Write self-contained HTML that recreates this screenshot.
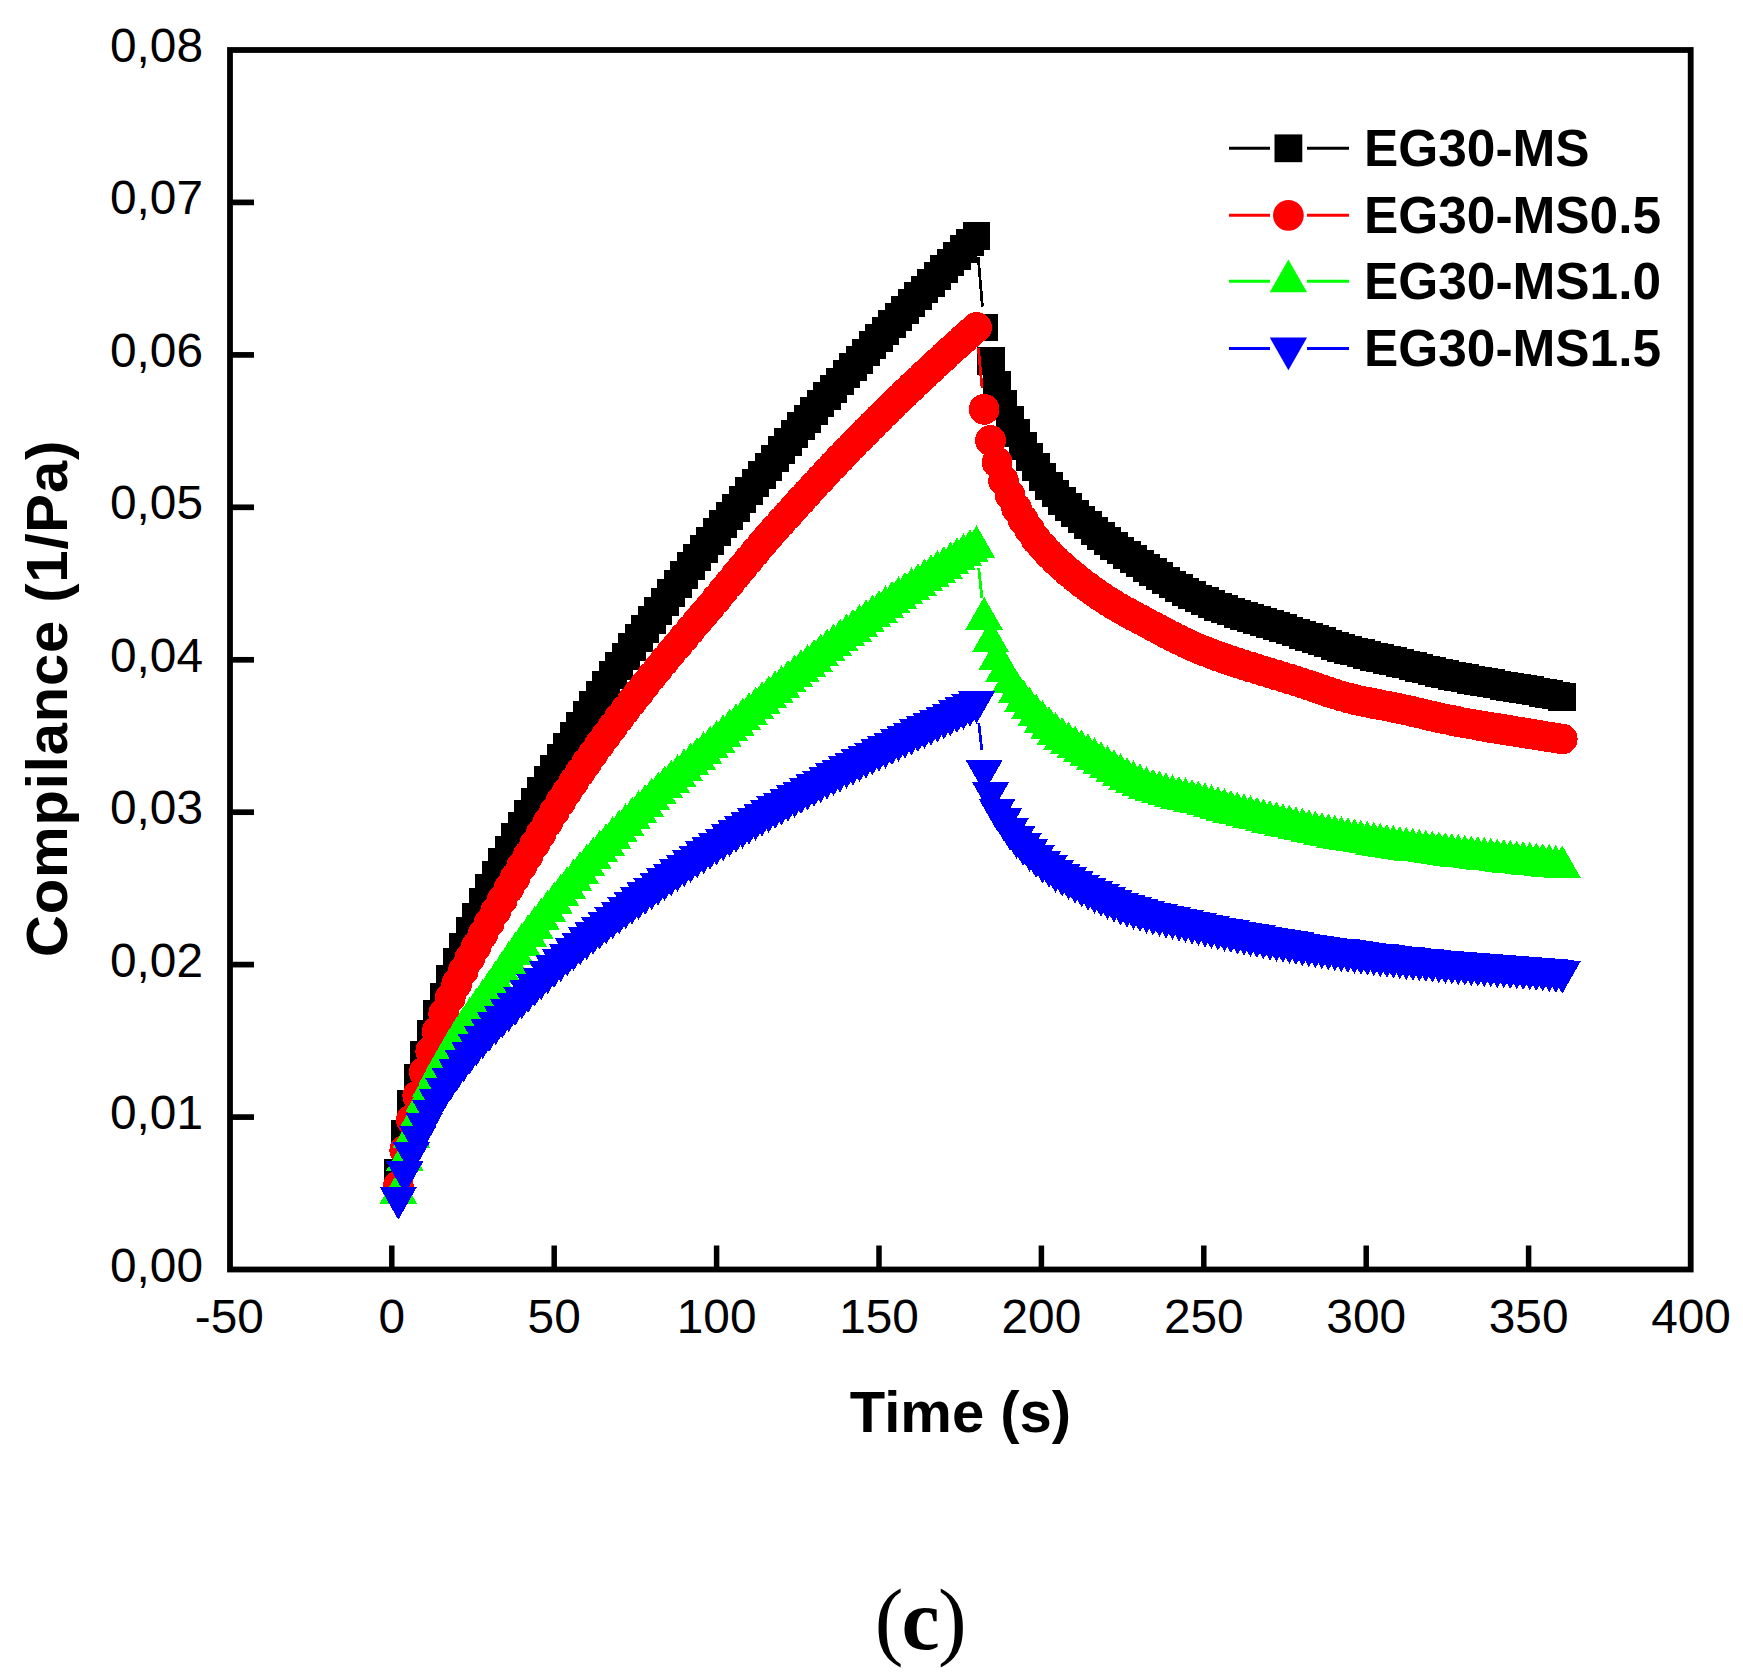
<!DOCTYPE html>
<html><head><meta charset="utf-8"><title>Creep compliance</title>
<style>
html,body{margin:0;padding:0;background:#fff;}
body{width:1743px;height:1674px;overflow:hidden;}
svg{display:block;}
.tk{font-family:"Liberation Sans",Arial,sans-serif;font-size:47.8px;fill:#000;}
.lg{font-family:"Liberation Sans",Arial,sans-serif;font-size:51.4px;font-weight:bold;fill:#000;}
.ttl{font-family:"Liberation Sans",Arial,sans-serif;font-size:58px;font-weight:bold;fill:#000;}
.cap{font-family:"Liberation Serif","Times New Roman",serif;font-size:86px;letter-spacing:-1.8px;fill:#000;}
</style></head><body>
<svg width="1743" height="1674" viewBox="0 0 1743 1674">
<rect width="1743" height="1674" fill="#fff"/>
<g shape-rendering="crispEdges">
<g fill="#000000" stroke="none">
<line x1="978.2" y1="257" x2="982.4" y2="306.6" stroke="#000000" stroke-width="2.8"/>
<path d="M384.4 1158.96h27.8v27.8h-27.8zM390.89 1119.94h27.8v27.8h-27.8zM397.39 1090.06h27.8v27.8h-27.8zM403.88 1064.15h27.8v27.8h-27.8zM410.38 1041.13h27.8v27.8h-27.8zM416.88 1019.94h27.8v27.8h-27.8zM423.37 999.97h27.8v27.8h-27.8zM429.87 983.21h27.8v27.8h-27.8zM436.36 964.92h27.8v27.8h-27.8zM442.86 948.14h27.8v27.8h-27.8zM449.36 932.53h27.8v27.8h-27.8zM455.85 917.36h27.8v27.8h-27.8zM462.35 902.53h27.8v27.8h-27.8zM468.84 888.24h27.8v27.8h-27.8zM475.34 874.45h27.8v27.8h-27.8zM481.84 861.1h27.8v27.8h-27.8zM488.33 848.18h27.8v27.8h-27.8zM494.83 835.64h27.8v27.8h-27.8zM501.32 823.46h27.8v27.8h-27.8zM507.82 811.53h27.8v27.8h-27.8zM514.32 799.76h27.8v27.8h-27.8zM520.81 788.17h27.8v27.8h-27.8zM527.31 776.77h27.8v27.8h-27.8zM533.8 765.56h27.8v27.8h-27.8zM540.3 754.55h27.8v27.8h-27.8zM546.8 743.74h27.8v27.8h-27.8zM553.29 733.02h27.8v27.8h-27.8zM559.79 722.33h27.8v27.8h-27.8zM566.28 711.73h27.8v27.8h-27.8zM572.78 701.27h27.8v27.8h-27.8zM579.28 690.98h27.8v27.8h-27.8zM585.77 680.89h27.8v27.8h-27.8zM592.27 671.03h27.8v27.8h-27.8zM598.76 661.38h27.8v27.8h-27.8zM605.26 651.88h27.8v27.8h-27.8zM611.76 642.51h27.8v27.8h-27.8zM618.25 633.25h27.8v27.8h-27.8zM624.75 624.08h27.8v27.8h-27.8zM631.24 614.98h27.8v27.8h-27.8zM637.74 605.94h27.8v27.8h-27.8zM644.24 596.91h27.8v27.8h-27.8zM650.73 587.85h27.8v27.8h-27.8zM657.23 578.82h27.8v27.8h-27.8zM663.72 569.85h27.8v27.8h-27.8zM670.22 560.98h27.8v27.8h-27.8zM676.72 552.23h27.8v27.8h-27.8zM683.21 543.62h27.8v27.8h-27.8zM689.71 535.13h27.8v27.8h-27.8zM696.2 526.72h27.8v27.8h-27.8zM702.7 518.4h27.8v27.8h-27.8zM709.2 510.13h27.8v27.8h-27.8zM715.69 501.91h27.8v27.8h-27.8zM722.19 493.74h27.8v27.8h-27.8zM728.68 485.58h27.8v27.8h-27.8zM735.18 477.44h27.8v27.8h-27.8zM741.68 469.28h27.8v27.8h-27.8zM748.17 461.06h27.8v27.8h-27.8zM754.67 452.83h27.8v27.8h-27.8zM761.16 444.62h27.8v27.8h-27.8zM767.66 436.46h27.8v27.8h-27.8zM774.16 428.37h27.8v27.8h-27.8zM780.65 420.37h27.8v27.8h-27.8zM787.15 412.48h27.8v27.8h-27.8zM793.64 404.74h27.8v27.8h-27.8zM800.14 397.12h27.8v27.8h-27.8zM806.64 389.6h27.8v27.8h-27.8zM813.13 382.17h27.8v27.8h-27.8zM819.63 374.81h27.8v27.8h-27.8zM826.12 367.5h27.8v27.8h-27.8zM832.62 360.24h27.8v27.8h-27.8zM839.12 353.01h27.8v27.8h-27.8zM845.61 345.79h27.8v27.8h-27.8zM852.11 338.58h27.8v27.8h-27.8zM858.6 331.4h27.8v27.8h-27.8zM865.1 324.26h27.8v27.8h-27.8zM871.6 317.17h27.8v27.8h-27.8zM878.09 310.13h27.8v27.8h-27.8zM884.59 303.13h27.8v27.8h-27.8zM891.08 296.17h27.8v27.8h-27.8zM897.58 289.26h27.8v27.8h-27.8zM904.08 282.38h27.8v27.8h-27.8zM910.57 275.54h27.8v27.8h-27.8zM917.07 268.74h27.8v27.8h-27.8zM923.56 261.98h27.8v27.8h-27.8zM930.06 255.25h27.8v27.8h-27.8zM936.56 248.56h27.8v27.8h-27.8zM943.05 241.9h27.8v27.8h-27.8zM949.55 235.28h27.8v27.8h-27.8zM956.04 228.69h27.8v27.8h-27.8zM962.54 222.12h27.8v27.8h-27.8zM970.21 313.58h27.8v27.8h-27.8zM976.7 347.12h27.8v27.8h-27.8zM983.2 370.9h27.8v27.8h-27.8zM989.69 389.95h27.8v27.8h-27.8zM996.19 405.8h27.8v27.8h-27.8zM1002.69 419.22h27.8v27.8h-27.8zM1009.18 431.72h27.8v27.8h-27.8zM1015.68 443.3h27.8v27.8h-27.8zM1022.17 453.21h27.8v27.8h-27.8zM1028.67 463.12h27.8v27.8h-27.8zM1035.17 472.11h27.8v27.8h-27.8zM1041.66 479.65h27.8v27.8h-27.8zM1048.16 486.72h27.8v27.8h-27.8zM1054.65 493.37h27.8v27.8h-27.8zM1061.15 499.65h27.8v27.8h-27.8zM1067.65 505.63h27.8v27.8h-27.8zM1074.14 511.34h27.8v27.8h-27.8zM1080.64 516.85h27.8v27.8h-27.8zM1087.13 522.14h27.8v27.8h-27.8zM1093.63 527.15h27.8v27.8h-27.8zM1100.13 531.94h27.8v27.8h-27.8zM1106.62 536.54h27.8v27.8h-27.8zM1113.12 540.99h27.8v27.8h-27.8zM1119.61 545.34h27.8v27.8h-27.8zM1126.11 549.66h27.8v27.8h-27.8zM1132.61 553.98h27.8v27.8h-27.8zM1139.1 558.26h27.8v27.8h-27.8zM1145.6 562.48h27.8v27.8h-27.8zM1152.09 566.6h27.8v27.8h-27.8zM1158.59 570.59h27.8v27.8h-27.8zM1165.09 574.41h27.8v27.8h-27.8zM1171.58 578.03h27.8v27.8h-27.8zM1178.08 581.43h27.8v27.8h-27.8zM1184.57 584.57h27.8v27.8h-27.8zM1191.07 587.46h27.8v27.8h-27.8zM1197.57 590.18h27.8v27.8h-27.8zM1204.06 592.77h27.8v27.8h-27.8zM1210.56 595.23h27.8v27.8h-27.8zM1217.05 597.59h27.8v27.8h-27.8zM1223.55 599.86h27.8v27.8h-27.8zM1230.05 602.05h27.8v27.8h-27.8zM1236.54 604.18h27.8v27.8h-27.8zM1243.04 606.26h27.8v27.8h-27.8zM1249.53 608.31h27.8v27.8h-27.8zM1256.03 610.34h27.8v27.8h-27.8zM1262.53 612.38h27.8v27.8h-27.8zM1269.02 614.43h27.8v27.8h-27.8zM1275.52 616.5h27.8v27.8h-27.8zM1282.01 618.62h27.8v27.8h-27.8zM1288.51 620.8h27.8v27.8h-27.8zM1295.01 623.02h27.8v27.8h-27.8zM1301.5 625.25h27.8v27.8h-27.8zM1308 627.48h27.8v27.8h-27.8zM1314.49 629.67h27.8v27.8h-27.8zM1320.99 631.81h27.8v27.8h-27.8zM1327.49 633.87h27.8v27.8h-27.8zM1333.98 635.83h27.8v27.8h-27.8zM1340.48 637.67h27.8v27.8h-27.8zM1346.97 639.42h27.8v27.8h-27.8zM1353.47 641.09h27.8v27.8h-27.8zM1359.97 642.71h27.8v27.8h-27.8zM1366.46 644.3h27.8v27.8h-27.8zM1372.96 645.87h27.8v27.8h-27.8zM1379.45 647.45h27.8v27.8h-27.8zM1385.95 649.05h27.8v27.8h-27.8zM1392.45 650.68h27.8v27.8h-27.8zM1398.94 652.33h27.8v27.8h-27.8zM1405.44 653.99h27.8v27.8h-27.8zM1411.93 655.63h27.8v27.8h-27.8zM1418.43 657.24h27.8v27.8h-27.8zM1424.93 658.81h27.8v27.8h-27.8zM1431.42 660.32h27.8v27.8h-27.8zM1437.92 661.75h27.8v27.8h-27.8zM1444.41 663.12h27.8v27.8h-27.8zM1450.91 664.44h27.8v27.8h-27.8zM1457.41 665.72h27.8v27.8h-27.8zM1463.9 666.96h27.8v27.8h-27.8zM1470.4 668.18h27.8v27.8h-27.8zM1476.89 669.37h27.8v27.8h-27.8zM1483.39 670.55h27.8v27.8h-27.8zM1489.89 671.71h27.8v27.8h-27.8zM1496.38 672.88h27.8v27.8h-27.8zM1502.88 674.04h27.8v27.8h-27.8zM1509.37 675.22h27.8v27.8h-27.8zM1515.87 676.42h27.8v27.8h-27.8zM1522.37 677.64h27.8v27.8h-27.8zM1528.86 678.89h27.8v27.8h-27.8zM1535.36 680.17h27.8v27.8h-27.8zM1541.85 681.51h27.8v27.8h-27.8zM1548.35 682.89h27.8v27.8h-27.8z"/>
</g>
<g fill="#ff0000" stroke="none">
<line x1="978.4" y1="348.4" x2="982.1" y2="388.4" stroke="#ff0000" stroke-width="2.8"/>
<path d="M382.9 1185.97a15.4 15.4 0 1 0 30.8 0a15.4 15.4 0 1 0 -30.8 0zM389.39 1150.15a15.4 15.4 0 1 0 30.8 0a15.4 15.4 0 1 0 -30.8 0zM395.89 1119.81a15.4 15.4 0 1 0 30.8 0a15.4 15.4 0 1 0 -30.8 0zM402.38 1095.73a15.4 15.4 0 1 0 30.8 0a15.4 15.4 0 1 0 -30.8 0zM408.88 1072.1a15.4 15.4 0 1 0 30.8 0a15.4 15.4 0 1 0 -30.8 0zM415.38 1051.07a15.4 15.4 0 1 0 30.8 0a15.4 15.4 0 1 0 -30.8 0zM421.87 1031.33a15.4 15.4 0 1 0 30.8 0a15.4 15.4 0 1 0 -30.8 0zM428.37 1013.42a15.4 15.4 0 1 0 30.8 0a15.4 15.4 0 1 0 -30.8 0zM434.86 997.76a15.4 15.4 0 1 0 30.8 0a15.4 15.4 0 1 0 -30.8 0zM441.36 983.79a15.4 15.4 0 1 0 30.8 0a15.4 15.4 0 1 0 -30.8 0zM447.86 970.84a15.4 15.4 0 1 0 30.8 0a15.4 15.4 0 1 0 -30.8 0zM454.35 958.48a15.4 15.4 0 1 0 30.8 0a15.4 15.4 0 1 0 -30.8 0zM460.85 946.46a15.4 15.4 0 1 0 30.8 0a15.4 15.4 0 1 0 -30.8 0zM467.34 934.61a15.4 15.4 0 1 0 30.8 0a15.4 15.4 0 1 0 -30.8 0zM473.84 922.87a15.4 15.4 0 1 0 30.8 0a15.4 15.4 0 1 0 -30.8 0zM480.34 911.27a15.4 15.4 0 1 0 30.8 0a15.4 15.4 0 1 0 -30.8 0zM486.83 899.82a15.4 15.4 0 1 0 30.8 0a15.4 15.4 0 1 0 -30.8 0zM493.33 888.56a15.4 15.4 0 1 0 30.8 0a15.4 15.4 0 1 0 -30.8 0zM499.82 877.48a15.4 15.4 0 1 0 30.8 0a15.4 15.4 0 1 0 -30.8 0zM506.32 866.47a15.4 15.4 0 1 0 30.8 0a15.4 15.4 0 1 0 -30.8 0zM512.82 855.43a15.4 15.4 0 1 0 30.8 0a15.4 15.4 0 1 0 -30.8 0zM519.31 844.41a15.4 15.4 0 1 0 30.8 0a15.4 15.4 0 1 0 -30.8 0zM525.81 833.49a15.4 15.4 0 1 0 30.8 0a15.4 15.4 0 1 0 -30.8 0zM532.3 822.71a15.4 15.4 0 1 0 30.8 0a15.4 15.4 0 1 0 -30.8 0zM538.8 812.11a15.4 15.4 0 1 0 30.8 0a15.4 15.4 0 1 0 -30.8 0zM545.3 801.79a15.4 15.4 0 1 0 30.8 0a15.4 15.4 0 1 0 -30.8 0zM551.79 791.73a15.4 15.4 0 1 0 30.8 0a15.4 15.4 0 1 0 -30.8 0zM558.29 781.91a15.4 15.4 0 1 0 30.8 0a15.4 15.4 0 1 0 -30.8 0zM564.78 772.31a15.4 15.4 0 1 0 30.8 0a15.4 15.4 0 1 0 -30.8 0zM571.28 762.9a15.4 15.4 0 1 0 30.8 0a15.4 15.4 0 1 0 -30.8 0zM577.78 753.68a15.4 15.4 0 1 0 30.8 0a15.4 15.4 0 1 0 -30.8 0zM584.27 744.62a15.4 15.4 0 1 0 30.8 0a15.4 15.4 0 1 0 -30.8 0zM590.77 735.71a15.4 15.4 0 1 0 30.8 0a15.4 15.4 0 1 0 -30.8 0zM597.26 726.94a15.4 15.4 0 1 0 30.8 0a15.4 15.4 0 1 0 -30.8 0zM603.76 718.3a15.4 15.4 0 1 0 30.8 0a15.4 15.4 0 1 0 -30.8 0zM610.26 709.78a15.4 15.4 0 1 0 30.8 0a15.4 15.4 0 1 0 -30.8 0zM616.75 701.38a15.4 15.4 0 1 0 30.8 0a15.4 15.4 0 1 0 -30.8 0zM623.25 693.08a15.4 15.4 0 1 0 30.8 0a15.4 15.4 0 1 0 -30.8 0zM629.74 684.88a15.4 15.4 0 1 0 30.8 0a15.4 15.4 0 1 0 -30.8 0zM636.24 676.77a15.4 15.4 0 1 0 30.8 0a15.4 15.4 0 1 0 -30.8 0zM642.74 668.74a15.4 15.4 0 1 0 30.8 0a15.4 15.4 0 1 0 -30.8 0zM649.23 660.81a15.4 15.4 0 1 0 30.8 0a15.4 15.4 0 1 0 -30.8 0zM655.73 652.94a15.4 15.4 0 1 0 30.8 0a15.4 15.4 0 1 0 -30.8 0zM662.22 645.16a15.4 15.4 0 1 0 30.8 0a15.4 15.4 0 1 0 -30.8 0zM668.72 637.44a15.4 15.4 0 1 0 30.8 0a15.4 15.4 0 1 0 -30.8 0zM675.22 629.79a15.4 15.4 0 1 0 30.8 0a15.4 15.4 0 1 0 -30.8 0zM681.71 622.21a15.4 15.4 0 1 0 30.8 0a15.4 15.4 0 1 0 -30.8 0zM688.21 614.57a15.4 15.4 0 1 0 30.8 0a15.4 15.4 0 1 0 -30.8 0zM694.7 606.81a15.4 15.4 0 1 0 30.8 0a15.4 15.4 0 1 0 -30.8 0zM701.2 598.96a15.4 15.4 0 1 0 30.8 0a15.4 15.4 0 1 0 -30.8 0zM707.7 591.06a15.4 15.4 0 1 0 30.8 0a15.4 15.4 0 1 0 -30.8 0zM714.19 583.15a15.4 15.4 0 1 0 30.8 0a15.4 15.4 0 1 0 -30.8 0zM720.69 575.24a15.4 15.4 0 1 0 30.8 0a15.4 15.4 0 1 0 -30.8 0zM727.18 567.37a15.4 15.4 0 1 0 30.8 0a15.4 15.4 0 1 0 -30.8 0zM733.68 559.55a15.4 15.4 0 1 0 30.8 0a15.4 15.4 0 1 0 -30.8 0zM740.18 551.8a15.4 15.4 0 1 0 30.8 0a15.4 15.4 0 1 0 -30.8 0zM746.67 544.15a15.4 15.4 0 1 0 30.8 0a15.4 15.4 0 1 0 -30.8 0zM753.17 536.6a15.4 15.4 0 1 0 30.8 0a15.4 15.4 0 1 0 -30.8 0zM759.66 529.18a15.4 15.4 0 1 0 30.8 0a15.4 15.4 0 1 0 -30.8 0zM766.16 521.88a15.4 15.4 0 1 0 30.8 0a15.4 15.4 0 1 0 -30.8 0zM772.66 514.64a15.4 15.4 0 1 0 30.8 0a15.4 15.4 0 1 0 -30.8 0zM779.15 507.43a15.4 15.4 0 1 0 30.8 0a15.4 15.4 0 1 0 -30.8 0zM785.65 500.27a15.4 15.4 0 1 0 30.8 0a15.4 15.4 0 1 0 -30.8 0zM792.14 493.16a15.4 15.4 0 1 0 30.8 0a15.4 15.4 0 1 0 -30.8 0zM798.64 486.09a15.4 15.4 0 1 0 30.8 0a15.4 15.4 0 1 0 -30.8 0zM805.14 479.08a15.4 15.4 0 1 0 30.8 0a15.4 15.4 0 1 0 -30.8 0zM811.63 472.13a15.4 15.4 0 1 0 30.8 0a15.4 15.4 0 1 0 -30.8 0zM818.13 465.23a15.4 15.4 0 1 0 30.8 0a15.4 15.4 0 1 0 -30.8 0zM824.62 458.4a15.4 15.4 0 1 0 30.8 0a15.4 15.4 0 1 0 -30.8 0zM831.12 451.63a15.4 15.4 0 1 0 30.8 0a15.4 15.4 0 1 0 -30.8 0zM837.62 444.92a15.4 15.4 0 1 0 30.8 0a15.4 15.4 0 1 0 -30.8 0zM844.11 438.28a15.4 15.4 0 1 0 30.8 0a15.4 15.4 0 1 0 -30.8 0zM850.61 431.7a15.4 15.4 0 1 0 30.8 0a15.4 15.4 0 1 0 -30.8 0zM857.1 425.18a15.4 15.4 0 1 0 30.8 0a15.4 15.4 0 1 0 -30.8 0zM863.6 418.72a15.4 15.4 0 1 0 30.8 0a15.4 15.4 0 1 0 -30.8 0zM870.1 412.3a15.4 15.4 0 1 0 30.8 0a15.4 15.4 0 1 0 -30.8 0zM876.59 405.94a15.4 15.4 0 1 0 30.8 0a15.4 15.4 0 1 0 -30.8 0zM883.09 399.63a15.4 15.4 0 1 0 30.8 0a15.4 15.4 0 1 0 -30.8 0zM889.58 393.36a15.4 15.4 0 1 0 30.8 0a15.4 15.4 0 1 0 -30.8 0zM896.08 387.14a15.4 15.4 0 1 0 30.8 0a15.4 15.4 0 1 0 -30.8 0zM902.58 380.98a15.4 15.4 0 1 0 30.8 0a15.4 15.4 0 1 0 -30.8 0zM909.07 374.85a15.4 15.4 0 1 0 30.8 0a15.4 15.4 0 1 0 -30.8 0zM915.57 368.78a15.4 15.4 0 1 0 30.8 0a15.4 15.4 0 1 0 -30.8 0zM922.06 362.75a15.4 15.4 0 1 0 30.8 0a15.4 15.4 0 1 0 -30.8 0zM928.56 356.76a15.4 15.4 0 1 0 30.8 0a15.4 15.4 0 1 0 -30.8 0zM935.06 350.82a15.4 15.4 0 1 0 30.8 0a15.4 15.4 0 1 0 -30.8 0zM941.55 344.92a15.4 15.4 0 1 0 30.8 0a15.4 15.4 0 1 0 -30.8 0zM948.05 339.07a15.4 15.4 0 1 0 30.8 0a15.4 15.4 0 1 0 -30.8 0zM954.54 333.25a15.4 15.4 0 1 0 30.8 0a15.4 15.4 0 1 0 -30.8 0zM961.04 327.48a15.4 15.4 0 1 0 30.8 0a15.4 15.4 0 1 0 -30.8 0zM968.71 409.34a15.4 15.4 0 1 0 30.8 0a15.4 15.4 0 1 0 -30.8 0zM975.2 440.59a15.4 15.4 0 1 0 30.8 0a15.4 15.4 0 1 0 -30.8 0zM981.7 462.38a15.4 15.4 0 1 0 30.8 0a15.4 15.4 0 1 0 -30.8 0zM988.19 480.83a15.4 15.4 0 1 0 30.8 0a15.4 15.4 0 1 0 -30.8 0zM994.69 495.16a15.4 15.4 0 1 0 30.8 0a15.4 15.4 0 1 0 -30.8 0zM1001.19 508.26a15.4 15.4 0 1 0 30.8 0a15.4 15.4 0 1 0 -30.8 0zM1007.68 519.7a15.4 15.4 0 1 0 30.8 0a15.4 15.4 0 1 0 -30.8 0zM1014.18 529.76a15.4 15.4 0 1 0 30.8 0a15.4 15.4 0 1 0 -30.8 0zM1020.67 539.36a15.4 15.4 0 1 0 30.8 0a15.4 15.4 0 1 0 -30.8 0zM1027.17 546.81a15.4 15.4 0 1 0 30.8 0a15.4 15.4 0 1 0 -30.8 0zM1033.67 553.75a15.4 15.4 0 1 0 30.8 0a15.4 15.4 0 1 0 -30.8 0zM1040.16 560.24a15.4 15.4 0 1 0 30.8 0a15.4 15.4 0 1 0 -30.8 0zM1046.66 566.31a15.4 15.4 0 1 0 30.8 0a15.4 15.4 0 1 0 -30.8 0zM1053.15 572.01a15.4 15.4 0 1 0 30.8 0a15.4 15.4 0 1 0 -30.8 0zM1059.65 577.39a15.4 15.4 0 1 0 30.8 0a15.4 15.4 0 1 0 -30.8 0zM1066.15 582.49a15.4 15.4 0 1 0 30.8 0a15.4 15.4 0 1 0 -30.8 0zM1072.64 587.36a15.4 15.4 0 1 0 30.8 0a15.4 15.4 0 1 0 -30.8 0zM1079.14 592.03a15.4 15.4 0 1 0 30.8 0a15.4 15.4 0 1 0 -30.8 0zM1085.63 596.56a15.4 15.4 0 1 0 30.8 0a15.4 15.4 0 1 0 -30.8 0zM1092.13 600.85a15.4 15.4 0 1 0 30.8 0a15.4 15.4 0 1 0 -30.8 0zM1098.63 604.89a15.4 15.4 0 1 0 30.8 0a15.4 15.4 0 1 0 -30.8 0zM1105.12 608.7a15.4 15.4 0 1 0 30.8 0a15.4 15.4 0 1 0 -30.8 0zM1111.62 612.35a15.4 15.4 0 1 0 30.8 0a15.4 15.4 0 1 0 -30.8 0zM1118.11 615.89a15.4 15.4 0 1 0 30.8 0a15.4 15.4 0 1 0 -30.8 0zM1124.61 619.34a15.4 15.4 0 1 0 30.8 0a15.4 15.4 0 1 0 -30.8 0zM1131.11 622.78a15.4 15.4 0 1 0 30.8 0a15.4 15.4 0 1 0 -30.8 0zM1137.6 626.23a15.4 15.4 0 1 0 30.8 0a15.4 15.4 0 1 0 -30.8 0zM1144.1 629.69a15.4 15.4 0 1 0 30.8 0a15.4 15.4 0 1 0 -30.8 0zM1150.59 633.12a15.4 15.4 0 1 0 30.8 0a15.4 15.4 0 1 0 -30.8 0zM1157.09 636.49a15.4 15.4 0 1 0 30.8 0a15.4 15.4 0 1 0 -30.8 0zM1163.59 639.76a15.4 15.4 0 1 0 30.8 0a15.4 15.4 0 1 0 -30.8 0zM1170.08 642.92a15.4 15.4 0 1 0 30.8 0a15.4 15.4 0 1 0 -30.8 0zM1176.58 645.91a15.4 15.4 0 1 0 30.8 0a15.4 15.4 0 1 0 -30.8 0zM1183.07 648.72a15.4 15.4 0 1 0 30.8 0a15.4 15.4 0 1 0 -30.8 0zM1189.57 651.32a15.4 15.4 0 1 0 30.8 0a15.4 15.4 0 1 0 -30.8 0zM1196.07 653.81a15.4 15.4 0 1 0 30.8 0a15.4 15.4 0 1 0 -30.8 0zM1202.56 656.2a15.4 15.4 0 1 0 30.8 0a15.4 15.4 0 1 0 -30.8 0zM1209.06 658.5a15.4 15.4 0 1 0 30.8 0a15.4 15.4 0 1 0 -30.8 0zM1215.55 660.71a15.4 15.4 0 1 0 30.8 0a15.4 15.4 0 1 0 -30.8 0zM1222.05 662.86a15.4 15.4 0 1 0 30.8 0a15.4 15.4 0 1 0 -30.8 0zM1228.55 664.96a15.4 15.4 0 1 0 30.8 0a15.4 15.4 0 1 0 -30.8 0zM1235.04 667a15.4 15.4 0 1 0 30.8 0a15.4 15.4 0 1 0 -30.8 0zM1241.54 669.02a15.4 15.4 0 1 0 30.8 0a15.4 15.4 0 1 0 -30.8 0zM1248.03 671.01a15.4 15.4 0 1 0 30.8 0a15.4 15.4 0 1 0 -30.8 0zM1254.53 672.99a15.4 15.4 0 1 0 30.8 0a15.4 15.4 0 1 0 -30.8 0zM1261.03 674.98a15.4 15.4 0 1 0 30.8 0a15.4 15.4 0 1 0 -30.8 0zM1267.52 676.97a15.4 15.4 0 1 0 30.8 0a15.4 15.4 0 1 0 -30.8 0zM1274.02 678.99a15.4 15.4 0 1 0 30.8 0a15.4 15.4 0 1 0 -30.8 0zM1280.51 681.04a15.4 15.4 0 1 0 30.8 0a15.4 15.4 0 1 0 -30.8 0zM1287.01 683.15a15.4 15.4 0 1 0 30.8 0a15.4 15.4 0 1 0 -30.8 0zM1293.51 685.32a15.4 15.4 0 1 0 30.8 0a15.4 15.4 0 1 0 -30.8 0zM1300 687.54a15.4 15.4 0 1 0 30.8 0a15.4 15.4 0 1 0 -30.8 0zM1306.5 689.76a15.4 15.4 0 1 0 30.8 0a15.4 15.4 0 1 0 -30.8 0zM1312.99 691.94a15.4 15.4 0 1 0 30.8 0a15.4 15.4 0 1 0 -30.8 0zM1319.49 694.04a15.4 15.4 0 1 0 30.8 0a15.4 15.4 0 1 0 -30.8 0zM1325.99 696.01a15.4 15.4 0 1 0 30.8 0a15.4 15.4 0 1 0 -30.8 0zM1332.48 697.81a15.4 15.4 0 1 0 30.8 0a15.4 15.4 0 1 0 -30.8 0zM1338.98 699.42a15.4 15.4 0 1 0 30.8 0a15.4 15.4 0 1 0 -30.8 0zM1345.47 700.88a15.4 15.4 0 1 0 30.8 0a15.4 15.4 0 1 0 -30.8 0zM1351.97 702.24a15.4 15.4 0 1 0 30.8 0a15.4 15.4 0 1 0 -30.8 0zM1358.47 703.53a15.4 15.4 0 1 0 30.8 0a15.4 15.4 0 1 0 -30.8 0zM1364.96 704.78a15.4 15.4 0 1 0 30.8 0a15.4 15.4 0 1 0 -30.8 0zM1371.46 706.04a15.4 15.4 0 1 0 30.8 0a15.4 15.4 0 1 0 -30.8 0zM1377.95 707.32a15.4 15.4 0 1 0 30.8 0a15.4 15.4 0 1 0 -30.8 0zM1384.45 708.68a15.4 15.4 0 1 0 30.8 0a15.4 15.4 0 1 0 -30.8 0zM1390.95 710.13a15.4 15.4 0 1 0 30.8 0a15.4 15.4 0 1 0 -30.8 0zM1397.44 711.63a15.4 15.4 0 1 0 30.8 0a15.4 15.4 0 1 0 -30.8 0zM1403.94 713.17a15.4 15.4 0 1 0 30.8 0a15.4 15.4 0 1 0 -30.8 0zM1410.43 714.71a15.4 15.4 0 1 0 30.8 0a15.4 15.4 0 1 0 -30.8 0zM1416.93 716.23a15.4 15.4 0 1 0 30.8 0a15.4 15.4 0 1 0 -30.8 0zM1423.43 717.71a15.4 15.4 0 1 0 30.8 0a15.4 15.4 0 1 0 -30.8 0zM1429.92 719.12a15.4 15.4 0 1 0 30.8 0a15.4 15.4 0 1 0 -30.8 0zM1436.42 720.44a15.4 15.4 0 1 0 30.8 0a15.4 15.4 0 1 0 -30.8 0zM1442.91 721.69a15.4 15.4 0 1 0 30.8 0a15.4 15.4 0 1 0 -30.8 0zM1449.41 722.9a15.4 15.4 0 1 0 30.8 0a15.4 15.4 0 1 0 -30.8 0zM1455.91 724.09a15.4 15.4 0 1 0 30.8 0a15.4 15.4 0 1 0 -30.8 0zM1462.4 725.24a15.4 15.4 0 1 0 30.8 0a15.4 15.4 0 1 0 -30.8 0zM1468.9 726.36a15.4 15.4 0 1 0 30.8 0a15.4 15.4 0 1 0 -30.8 0zM1475.39 727.46a15.4 15.4 0 1 0 30.8 0a15.4 15.4 0 1 0 -30.8 0zM1481.89 728.54a15.4 15.4 0 1 0 30.8 0a15.4 15.4 0 1 0 -30.8 0zM1488.39 729.61a15.4 15.4 0 1 0 30.8 0a15.4 15.4 0 1 0 -30.8 0zM1494.88 730.66a15.4 15.4 0 1 0 30.8 0a15.4 15.4 0 1 0 -30.8 0zM1501.38 731.71a15.4 15.4 0 1 0 30.8 0a15.4 15.4 0 1 0 -30.8 0zM1507.87 732.75a15.4 15.4 0 1 0 30.8 0a15.4 15.4 0 1 0 -30.8 0zM1514.37 733.79a15.4 15.4 0 1 0 30.8 0a15.4 15.4 0 1 0 -30.8 0zM1520.87 734.83a15.4 15.4 0 1 0 30.8 0a15.4 15.4 0 1 0 -30.8 0zM1527.36 735.88a15.4 15.4 0 1 0 30.8 0a15.4 15.4 0 1 0 -30.8 0zM1533.86 736.93a15.4 15.4 0 1 0 30.8 0a15.4 15.4 0 1 0 -30.8 0zM1540.35 737.99a15.4 15.4 0 1 0 30.8 0a15.4 15.4 0 1 0 -30.8 0zM1546.85 739.02a15.4 15.4 0 1 0 30.8 0a15.4 15.4 0 1 0 -30.8 0z"/>
</g>
<g fill="#00ff00" stroke="none">
<line x1="978.7" y1="567.9" x2="981.9" y2="597.7" stroke="#00ff00" stroke-width="2.8"/>
<path d="M398.3 1171.03l18.65 32.7h-37.3zM404.79 1138.1l18.65 32.7h-37.3zM411.29 1115.24l18.65 32.7h-37.3zM417.78 1095.49l18.65 32.7h-37.3zM424.28 1078.86l18.65 32.7h-37.3zM430.78 1064.21l18.65 32.7h-37.3zM437.27 1050.95l18.65 32.7h-37.3zM443.77 1038.74l18.65 32.7h-37.3zM450.26 1027.38l18.65 32.7h-37.3zM456.76 1016.69l18.65 32.7h-37.3zM463.26 1006.59l18.65 32.7h-37.3zM469.75 996.98l18.65 32.7h-37.3zM476.25 987.8l18.65 32.7h-37.3zM482.74 978.91l18.65 32.7h-37.3zM489.24 969.67l18.65 32.7h-37.3zM495.74 960.16l18.65 32.7h-37.3zM502.23 950.59l18.65 32.7h-37.3zM508.73 941.12l18.65 32.7h-37.3zM515.22 931.84l18.65 32.7h-37.3zM521.72 922.83l18.65 32.7h-37.3zM528.22 914.14l18.65 32.7h-37.3zM534.71 905.8l18.65 32.7h-37.3zM541.21 897.66l18.65 32.7h-37.3zM547.7 889.59l18.65 32.7h-37.3zM554.2 881.61l18.65 32.7h-37.3zM560.7 873.75l18.65 32.7h-37.3zM567.19 866.02l18.65 32.7h-37.3zM573.69 858.44l18.65 32.7h-37.3zM580.18 851.02l18.65 32.7h-37.3zM586.68 843.76l18.65 32.7h-37.3zM593.18 836.66l18.65 32.7h-37.3zM599.67 829.74l18.65 32.7h-37.3zM606.17 822.94l18.65 32.7h-37.3zM612.66 816.21l18.65 32.7h-37.3zM619.16 809.58l18.65 32.7h-37.3zM625.66 803.03l18.65 32.7h-37.3zM632.15 796.57l18.65 32.7h-37.3zM638.65 790.21l18.65 32.7h-37.3zM645.14 783.94l18.65 32.7h-37.3zM651.64 777.77l18.65 32.7h-37.3zM658.14 771.7l18.65 32.7h-37.3zM664.63 765.72l18.65 32.7h-37.3zM671.13 759.83l18.65 32.7h-37.3zM677.62 754.01l18.65 32.7h-37.3zM684.12 748.25l18.65 32.7h-37.3zM690.62 742.53l18.65 32.7h-37.3zM697.11 736.86l18.65 32.7h-37.3zM703.61 731.22l18.65 32.7h-37.3zM710.1 725.59l18.65 32.7h-37.3zM716.6 719.99l18.65 32.7h-37.3zM723.1 714.39l18.65 32.7h-37.3zM729.59 708.79l18.65 32.7h-37.3zM736.09 703.21l18.65 32.7h-37.3zM742.58 697.66l18.65 32.7h-37.3zM749.08 692.13l18.65 32.7h-37.3zM755.58 686.64l18.65 32.7h-37.3zM762.07 681.18l18.65 32.7h-37.3zM768.57 675.77l18.65 32.7h-37.3zM775.06 670.4l18.65 32.7h-37.3zM781.56 665.08l18.65 32.7h-37.3zM788.06 659.79l18.65 32.7h-37.3zM794.55 654.52l18.65 32.7h-37.3zM801.05 649.27l18.65 32.7h-37.3zM807.54 644.05l18.65 32.7h-37.3zM814.04 638.88l18.65 32.7h-37.3zM820.54 633.74l18.65 32.7h-37.3zM827.03 628.65l18.65 32.7h-37.3zM833.53 623.61l18.65 32.7h-37.3zM840.02 618.62l18.65 32.7h-37.3zM846.52 613.69l18.65 32.7h-37.3zM853.02 608.81l18.65 32.7h-37.3zM859.51 604l18.65 32.7h-37.3zM866.01 599.25l18.65 32.7h-37.3zM872.5 594.56l18.65 32.7h-37.3zM879 589.91l18.65 32.7h-37.3zM885.5 585.31l18.65 32.7h-37.3zM891.99 580.76l18.65 32.7h-37.3zM898.49 576.25l18.65 32.7h-37.3zM904.98 571.78l18.65 32.7h-37.3zM911.48 567.35l18.65 32.7h-37.3zM917.98 562.96l18.65 32.7h-37.3zM924.47 558.61l18.65 32.7h-37.3zM930.97 554.3l18.65 32.7h-37.3zM937.46 550.03l18.65 32.7h-37.3zM943.96 545.8l18.65 32.7h-37.3zM950.46 541.61l18.65 32.7h-37.3zM956.95 537.45l18.65 32.7h-37.3zM963.45 533.32l18.65 32.7h-37.3zM969.94 529.24l18.65 32.7h-37.3zM976.44 525.18l18.65 32.7h-37.3zM984.11 596.82l18.65 32.7h-37.3zM990.6 619.69l18.65 32.7h-37.3zM997.1 637.22l18.65 32.7h-37.3zM1003.59 649.72l18.65 32.7h-37.3zM1010.09 660.54l18.65 32.7h-37.3zM1016.59 670.45l18.65 32.7h-37.3zM1023.08 678.91l18.65 32.7h-37.3zM1029.58 686.61l18.65 32.7h-37.3zM1036.07 693.62l18.65 32.7h-37.3zM1042.57 700.12l18.65 32.7h-37.3zM1049.07 706.21l18.65 32.7h-37.3zM1055.56 711.83l18.65 32.7h-37.3zM1062.06 716.94l18.65 32.7h-37.3zM1068.55 721.5l18.65 32.7h-37.3zM1075.05 725.65l18.65 32.7h-37.3zM1081.55 729.56l18.65 32.7h-37.3zM1088.04 733.4l18.65 32.7h-37.3zM1094.54 737.33l18.65 32.7h-37.3zM1101.03 741.34l18.65 32.7h-37.3zM1107.53 745.37l18.65 32.7h-37.3zM1114.03 749.35l18.65 32.7h-37.3zM1120.52 753.21l18.65 32.7h-37.3zM1127.02 756.9l18.65 32.7h-37.3zM1133.51 760.35l18.65 32.7h-37.3zM1140.01 763.5l18.65 32.7h-37.3zM1146.51 766.27l18.65 32.7h-37.3zM1153 768.63l18.65 32.7h-37.3zM1159.5 770.7l18.65 32.7h-37.3zM1165.99 772.56l18.65 32.7h-37.3zM1172.49 774.26l18.65 32.7h-37.3zM1178.99 775.87l18.65 32.7h-37.3zM1185.48 777.44l18.65 32.7h-37.3zM1191.98 779.03l18.65 32.7h-37.3zM1198.47 780.7l18.65 32.7h-37.3zM1204.97 782.49l18.65 32.7h-37.3zM1211.47 784.32l18.65 32.7h-37.3zM1217.96 786.18l18.65 32.7h-37.3zM1224.46 788.03l18.65 32.7h-37.3zM1230.95 789.88l18.65 32.7h-37.3zM1237.45 791.68l18.65 32.7h-37.3zM1243.95 793.44l18.65 32.7h-37.3zM1250.44 795.11l18.65 32.7h-37.3zM1256.94 796.75l18.65 32.7h-37.3zM1263.43 798.38l18.65 32.7h-37.3zM1269.93 800l18.65 32.7h-37.3zM1276.43 801.6l18.65 32.7h-37.3zM1282.92 803.18l18.65 32.7h-37.3zM1289.42 804.75l18.65 32.7h-37.3zM1295.91 806.28l18.65 32.7h-37.3zM1302.41 807.79l18.65 32.7h-37.3zM1308.91 809.27l18.65 32.7h-37.3zM1315.4 810.72l18.65 32.7h-37.3zM1321.9 812.12l18.65 32.7h-37.3zM1328.39 813.49l18.65 32.7h-37.3zM1334.89 814.81l18.65 32.7h-37.3zM1341.39 816.09l18.65 32.7h-37.3zM1347.88 817.31l18.65 32.7h-37.3zM1354.38 818.49l18.65 32.7h-37.3zM1360.87 819.64l18.65 32.7h-37.3zM1367.37 820.76l18.65 32.7h-37.3zM1373.87 821.84l18.65 32.7h-37.3zM1380.36 822.91l18.65 32.7h-37.3zM1386.86 823.94l18.65 32.7h-37.3zM1393.35 824.95l18.65 32.7h-37.3zM1399.85 825.94l18.65 32.7h-37.3zM1406.35 826.91l18.65 32.7h-37.3zM1412.84 827.85l18.65 32.7h-37.3zM1419.34 828.78l18.65 32.7h-37.3zM1425.83 829.68l18.65 32.7h-37.3zM1432.33 830.57l18.65 32.7h-37.3zM1438.83 831.44l18.65 32.7h-37.3zM1445.32 832.29l18.65 32.7h-37.3zM1451.82 833.13l18.65 32.7h-37.3zM1458.31 833.94l18.65 32.7h-37.3zM1464.81 834.74l18.65 32.7h-37.3zM1471.31 835.5l18.65 32.7h-37.3zM1477.8 836.25l18.65 32.7h-37.3zM1484.3 836.98l18.65 32.7h-37.3zM1490.79 837.7l18.65 32.7h-37.3zM1497.29 838.41l18.65 32.7h-37.3zM1503.79 839.1l18.65 32.7h-37.3zM1510.28 839.8l18.65 32.7h-37.3zM1516.78 840.48l18.65 32.7h-37.3zM1523.27 841.17l18.65 32.7h-37.3zM1529.77 841.86l18.65 32.7h-37.3zM1536.27 842.56l18.65 32.7h-37.3zM1542.76 843.26l18.65 32.7h-37.3zM1549.26 843.98l18.65 32.7h-37.3zM1555.75 844.7l18.65 32.7h-37.3zM1562.25 845.42l18.65 32.7h-37.3z"/>
</g>
<g fill="#0000ff" stroke="none">
<line x1="978.8" y1="722.9" x2="981.8" y2="749.9" stroke="#0000ff" stroke-width="2.8"/>
<path d="M398.3 1219.66l18.65 -32.7h-37.3zM404.79 1193.9l18.65 -32.7h-37.3zM411.29 1174.84l18.65 -32.7h-37.3zM417.78 1158.69l18.65 -32.7h-37.3zM424.28 1145.73l18.65 -32.7h-37.3zM430.78 1133.01l18.65 -32.7h-37.3zM437.27 1121.41l18.65 -32.7h-37.3zM443.77 1110.73l18.65 -32.7h-37.3zM450.26 1100.8l18.65 -32.7h-37.3zM456.76 1091.5l18.65 -32.7h-37.3zM463.26 1082.75l18.65 -32.7h-37.3zM469.75 1074.48l18.65 -32.7h-37.3zM476.25 1066.62l18.65 -32.7h-37.3zM482.74 1059.13l18.65 -32.7h-37.3zM489.24 1051.97l18.65 -32.7h-37.3zM495.74 1045.11l18.65 -32.7h-37.3zM502.23 1038.52l18.65 -32.7h-37.3zM508.73 1032.17l18.65 -32.7h-37.3zM515.22 1025.85l18.65 -32.7h-37.3zM521.72 1019.44l18.65 -32.7h-37.3zM528.22 1013.01l18.65 -32.7h-37.3zM534.71 1006.61l18.65 -32.7h-37.3zM541.21 1000.3l18.65 -32.7h-37.3zM547.7 994.1l18.65 -32.7h-37.3zM554.2 988.05l18.65 -32.7h-37.3zM560.7 982.15l18.65 -32.7h-37.3zM567.19 976.43l18.65 -32.7h-37.3zM573.69 970.89l18.65 -32.7h-37.3zM580.18 965.48l18.65 -32.7h-37.3zM586.68 960.13l18.65 -32.7h-37.3zM593.18 954.85l18.65 -32.7h-37.3zM599.67 949.64l18.65 -32.7h-37.3zM606.17 944.5l18.65 -32.7h-37.3zM612.66 939.43l18.65 -32.7h-37.3zM619.16 934.42l18.65 -32.7h-37.3zM625.66 929.49l18.65 -32.7h-37.3zM632.15 924.62l18.65 -32.7h-37.3zM638.65 919.83l18.65 -32.7h-37.3zM645.14 915.07l18.65 -32.7h-37.3zM651.64 910.34l18.65 -32.7h-37.3zM658.14 905.64l18.65 -32.7h-37.3zM664.63 900.98l18.65 -32.7h-37.3zM671.13 896.36l18.65 -32.7h-37.3zM677.62 891.8l18.65 -32.7h-37.3zM684.12 887.28l18.65 -32.7h-37.3zM690.62 882.83l18.65 -32.7h-37.3zM697.11 878.43l18.65 -32.7h-37.3zM703.61 874.1l18.65 -32.7h-37.3zM710.1 869.8l18.65 -32.7h-37.3zM716.6 865.52l18.65 -32.7h-37.3zM723.1 861.27l18.65 -32.7h-37.3zM729.59 857.06l18.65 -32.7h-37.3zM736.09 852.89l18.65 -32.7h-37.3zM742.58 848.77l18.65 -32.7h-37.3zM749.08 844.71l18.65 -32.7h-37.3zM755.58 840.72l18.65 -32.7h-37.3zM762.07 836.79l18.65 -32.7h-37.3zM768.57 832.94l18.65 -32.7h-37.3zM775.06 829.17l18.65 -32.7h-37.3zM781.56 825.46l18.65 -32.7h-37.3zM788.06 821.75l18.65 -32.7h-37.3zM794.55 818l18.65 -32.7h-37.3zM801.05 814.25l18.65 -32.7h-37.3zM807.54 810.53l18.65 -32.7h-37.3zM814.04 806.86l18.65 -32.7h-37.3zM820.54 803.22l18.65 -32.7h-37.3zM827.03 799.61l18.65 -32.7h-37.3zM833.53 796.04l18.65 -32.7h-37.3zM840.02 792.51l18.65 -32.7h-37.3zM846.52 789l18.65 -32.7h-37.3zM853.02 785.53l18.65 -32.7h-37.3zM859.51 782.08l18.65 -32.7h-37.3zM866.01 778.66l18.65 -32.7h-37.3zM872.5 775.26l18.65 -32.7h-37.3zM879 771.89l18.65 -32.7h-37.3zM885.5 768.55l18.65 -32.7h-37.3zM891.99 765.23l18.65 -32.7h-37.3zM898.49 761.93l18.65 -32.7h-37.3zM904.98 758.65l18.65 -32.7h-37.3zM911.48 755.39l18.65 -32.7h-37.3zM917.98 752.15l18.65 -32.7h-37.3zM924.47 748.94l18.65 -32.7h-37.3zM930.97 745.74l18.65 -32.7h-37.3zM937.46 742.55l18.65 -32.7h-37.3zM943.96 739.39l18.65 -32.7h-37.3zM950.46 736.24l18.65 -32.7h-37.3zM956.95 733.11l18.65 -32.7h-37.3zM963.45 729.99l18.65 -32.7h-37.3zM969.94 726.89l18.65 -32.7h-37.3zM976.44 723.8l18.65 -32.7h-37.3zM984.11 792.55l18.65 -32.7h-37.3zM990.6 814.5l18.65 -32.7h-37.3zM997.1 831.27l18.65 -32.7h-37.3zM1003.59 840.87l18.65 -32.7h-37.3zM1010.09 850.93l18.65 -32.7h-37.3zM1016.59 859.01l18.65 -32.7h-37.3zM1023.08 866.02l18.65 -32.7h-37.3zM1029.58 871.81l18.65 -32.7h-37.3zM1036.07 878.06l18.65 -32.7h-37.3zM1042.57 883.55l18.65 -32.7h-37.3zM1049.07 887.97l18.65 -32.7h-37.3zM1055.56 892.85l18.65 -32.7h-37.3zM1062.06 896.35l18.65 -32.7h-37.3zM1068.55 900.01l18.65 -32.7h-37.3zM1075.05 903.82l18.65 -32.7h-37.3zM1081.55 907.23l18.65 -32.7h-37.3zM1088.04 910.58l18.65 -32.7h-37.3zM1094.54 913.84l18.65 -32.7h-37.3zM1101.03 916.97l18.65 -32.7h-37.3zM1107.53 919.97l18.65 -32.7h-37.3zM1114.03 922.79l18.65 -32.7h-37.3zM1120.52 925.41l18.65 -32.7h-37.3zM1127.02 927.81l18.65 -32.7h-37.3zM1133.51 929.96l18.65 -32.7h-37.3zM1140.01 931.91l18.65 -32.7h-37.3zM1146.51 933.7l18.65 -32.7h-37.3zM1153 935.36l18.65 -32.7h-37.3zM1159.5 936.93l18.65 -32.7h-37.3zM1165.99 938.45l18.65 -32.7h-37.3zM1172.49 939.94l18.65 -32.7h-37.3zM1178.99 941.44l18.65 -32.7h-37.3zM1185.48 942.98l18.65 -32.7h-37.3zM1191.98 944.52l18.65 -32.7h-37.3zM1198.47 946.04l18.65 -32.7h-37.3zM1204.97 947.54l18.65 -32.7h-37.3zM1211.47 949.01l18.65 -32.7h-37.3zM1217.96 950.43l18.65 -32.7h-37.3zM1224.46 951.81l18.65 -32.7h-37.3zM1230.95 953.12l18.65 -32.7h-37.3zM1237.45 954.39l18.65 -32.7h-37.3zM1243.95 955.65l18.65 -32.7h-37.3zM1250.44 956.9l18.65 -32.7h-37.3zM1256.94 958.13l18.65 -32.7h-37.3zM1263.43 959.34l18.65 -32.7h-37.3zM1269.93 960.54l18.65 -32.7h-37.3zM1276.43 961.71l18.65 -32.7h-37.3zM1282.92 962.87l18.65 -32.7h-37.3zM1289.42 964l18.65 -32.7h-37.3zM1295.91 965.12l18.65 -32.7h-37.3zM1302.41 966.21l18.65 -32.7h-37.3zM1308.91 967.27l18.65 -32.7h-37.3zM1315.4 968.31l18.65 -32.7h-37.3zM1321.9 969.31l18.65 -32.7h-37.3zM1328.39 970.3l18.65 -32.7h-37.3zM1334.89 971.25l18.65 -32.7h-37.3zM1341.39 972.17l18.65 -32.7h-37.3zM1347.88 973.05l18.65 -32.7h-37.3zM1354.38 973.91l18.65 -32.7h-37.3zM1360.87 974.74l18.65 -32.7h-37.3zM1367.37 975.56l18.65 -32.7h-37.3zM1373.87 976.35l18.65 -32.7h-37.3zM1380.36 977.12l18.65 -32.7h-37.3zM1386.86 977.87l18.65 -32.7h-37.3zM1393.35 978.6l18.65 -32.7h-37.3zM1399.85 979.31l18.65 -32.7h-37.3zM1406.35 980.01l18.65 -32.7h-37.3zM1412.84 980.69l18.65 -32.7h-37.3zM1419.34 981.35l18.65 -32.7h-37.3zM1425.83 982l18.65 -32.7h-37.3zM1432.33 982.64l18.65 -32.7h-37.3zM1438.83 983.26l18.65 -32.7h-37.3zM1445.32 983.87l18.65 -32.7h-37.3zM1451.82 984.47l18.65 -32.7h-37.3zM1458.31 985.04l18.65 -32.7h-37.3zM1464.81 985.57l18.65 -32.7h-37.3zM1471.31 986.08l18.65 -32.7h-37.3zM1477.8 986.57l18.65 -32.7h-37.3zM1484.3 987.03l18.65 -32.7h-37.3zM1490.79 987.49l18.65 -32.7h-37.3zM1497.29 987.95l18.65 -32.7h-37.3zM1503.79 988.41l18.65 -32.7h-37.3zM1510.28 988.87l18.65 -32.7h-37.3zM1516.78 989.35l18.65 -32.7h-37.3zM1523.27 989.85l18.65 -32.7h-37.3zM1529.77 990.37l18.65 -32.7h-37.3zM1536.27 990.93l18.65 -32.7h-37.3zM1542.76 991.52l18.65 -32.7h-37.3zM1549.26 992.15l18.65 -32.7h-37.3zM1555.75 992.9l18.65 -32.7h-37.3zM1562.25 993.74l18.65 -32.7h-37.3z"/>
</g>
</g>
<rect x="230" y="50" width="1460.7" height="1219.5" fill="none" stroke="#000" stroke-width="5.8"/>
<text x="229.4" y="1333" text-anchor="middle" class="tk">-50</text>
<line x1="391.8" y1="1269.5" x2="391.8" y2="1245.5" stroke="#000" stroke-width="5.5"/>
<text x="391.8" y="1333" text-anchor="middle" class="tk">0</text>
<line x1="554.2" y1="1269.5" x2="554.2" y2="1245.5" stroke="#000" stroke-width="5.5"/>
<text x="554.2" y="1333" text-anchor="middle" class="tk">50</text>
<line x1="716.6" y1="1269.5" x2="716.6" y2="1245.5" stroke="#000" stroke-width="5.5"/>
<text x="716.6" y="1333" text-anchor="middle" class="tk">100</text>
<line x1="879" y1="1269.5" x2="879" y2="1245.5" stroke="#000" stroke-width="5.5"/>
<text x="879" y="1333" text-anchor="middle" class="tk">150</text>
<line x1="1041.4" y1="1269.5" x2="1041.4" y2="1245.5" stroke="#000" stroke-width="5.5"/>
<text x="1041.4" y="1333" text-anchor="middle" class="tk">200</text>
<line x1="1203.8" y1="1269.5" x2="1203.8" y2="1245.5" stroke="#000" stroke-width="5.5"/>
<text x="1203.8" y="1333" text-anchor="middle" class="tk">250</text>
<line x1="1366.2" y1="1269.5" x2="1366.2" y2="1245.5" stroke="#000" stroke-width="5.5"/>
<text x="1366.2" y="1333" text-anchor="middle" class="tk">300</text>
<line x1="1528.6" y1="1269.5" x2="1528.6" y2="1245.5" stroke="#000" stroke-width="5.5"/>
<text x="1528.6" y="1333" text-anchor="middle" class="tk">350</text>
<text x="1691" y="1333" text-anchor="middle" class="tk">400</text>
<text x="203" y="1281.5" text-anchor="end" class="tk">0,00</text>
<line x1="230" y1="1117.1" x2="254" y2="1117.1" stroke="#000" stroke-width="5.7"/>
<text x="203" y="1129.1" text-anchor="end" class="tk">0,01</text>
<line x1="230" y1="964.6" x2="254" y2="964.6" stroke="#000" stroke-width="5.7"/>
<text x="203" y="976.6" text-anchor="end" class="tk">0,02</text>
<line x1="230" y1="812.2" x2="254" y2="812.2" stroke="#000" stroke-width="5.7"/>
<text x="203" y="824.2" text-anchor="end" class="tk">0,03</text>
<line x1="230" y1="659.8" x2="254" y2="659.8" stroke="#000" stroke-width="5.7"/>
<text x="203" y="671.8" text-anchor="end" class="tk">0,04</text>
<line x1="230" y1="507.3" x2="254" y2="507.3" stroke="#000" stroke-width="5.7"/>
<text x="203" y="519.3" text-anchor="end" class="tk">0,05</text>
<line x1="230" y1="354.9" x2="254" y2="354.9" stroke="#000" stroke-width="5.7"/>
<text x="203" y="366.9" text-anchor="end" class="tk">0,06</text>
<line x1="230" y1="202.4" x2="254" y2="202.4" stroke="#000" stroke-width="5.7"/>
<text x="203" y="214.4" text-anchor="end" class="tk">0,07</text>
<text x="203" y="62" text-anchor="end" class="tk">0,08</text>
<line x1="1229" y1="148.3" x2="1270" y2="148.3" stroke="#000000" stroke-width="3"/>
<line x1="1307" y1="148.3" x2="1349" y2="148.3" stroke="#000000" stroke-width="3"/>
<path d="M1274.5 134.4h27.8v27.8h-27.8z" fill="#000000"/>
<text x="1364" y="166.1" class="lg">EG30-MS</text>
<line x1="1229" y1="215.3" x2="1270" y2="215.3" stroke="#ff0000" stroke-width="3"/>
<line x1="1307" y1="215.3" x2="1349" y2="215.3" stroke="#ff0000" stroke-width="3"/>
<path d="M1273 215.3a15.4 15.4 0 1 0 30.8 0a15.4 15.4 0 1 0 -30.8 0z" fill="#ff0000"/>
<text x="1364" y="233.1" class="lg">EG30-MS0.5</text>
<line x1="1229" y1="281.3" x2="1270" y2="281.3" stroke="#00ff00" stroke-width="3"/>
<line x1="1307" y1="281.3" x2="1349" y2="281.3" stroke="#00ff00" stroke-width="3"/>
<path d="M1288.4 259.5l18.65 32.7h-37.3z" fill="#00ff00"/>
<text x="1364" y="299.1" class="lg">EG30-MS1.0</text>
<line x1="1229" y1="348.4" x2="1270" y2="348.4" stroke="#0000ff" stroke-width="3"/>
<line x1="1307" y1="348.4" x2="1349" y2="348.4" stroke="#0000ff" stroke-width="3"/>
<path d="M1288.4 370.2l18.65 -32.7h-37.3z" fill="#0000ff"/>
<text x="1364" y="366.2" class="lg">EG30-MS1.5</text>
<text x="960.5" y="1432" text-anchor="middle" class="ttl">Time (s)</text>
<text transform="translate(66.5,698.4) rotate(-90)" text-anchor="middle" class="ttl" letter-spacing="0.84">Compilance (1/Pa)</text>
<text x="919.8" y="1649.2" text-anchor="middle" class="cap">(<tspan font-weight="bold">c</tspan>)</text>
</svg>
</body></html>
